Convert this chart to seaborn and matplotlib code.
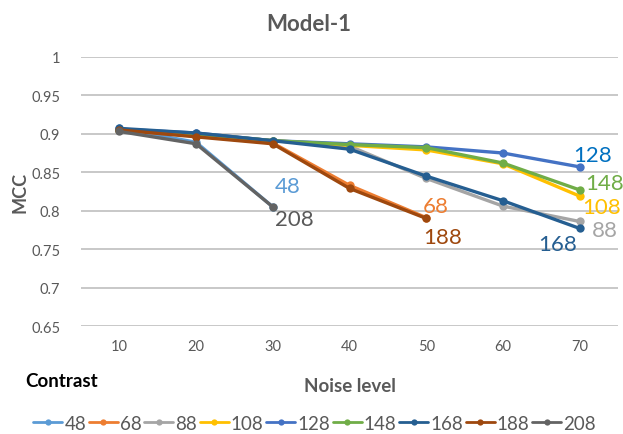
import numpy as np
import pandas as pd
import matplotlib
matplotlib.use("Agg")
import matplotlib.pyplot as plt
import seaborn as sns
from matplotlib.lines import Line2D

noise = [10, 20, 30, 40, 50, 60, 70]
c48 = [0.907, 0.889, 0.805]
c68 = [0.905, 0.897, 0.888, 0.833, 0.791]
c88 = [0.905, 0.900, 0.891, 0.884, 0.842, 0.806, 0.786]
c108 = [0.905, 0.900, 0.891, 0.885, 0.879, 0.861, 0.819]
c128 = [0.906, 0.901, 0.891, 0.887, 0.883, 0.875, 0.857]
c148 = [0.905, 0.900, 0.891, 0.886, 0.882, 0.862, 0.827]
c168 = [0.907, 0.901, 0.891, 0.880, 0.845, 0.813, 0.777]
c188 = [0.905, 0.896, 0.887, 0.829, 0.790]
c208 = [0.903, 0.887, 0.805]

contrasts = ["48", "68", "88", "108", "128", "148", "168", "188", "208"]
series = [c48, c68, c88, c108, c128, c148, c168, c188, c208]
colors = ["#5B9BD5", "#ED7D31", "#A5A5A5", "#FFC000", "#4472C4",
          "#70AD47", "#255E91", "#9E480E", "#636363"]
label_colors = ["#5B9BD5", "#ED7D31", "#A5A5A5", "#FFC000", "#0070C0",
                "#70AD47", "#255E91", "#9E480E", "#595959"]

rows = []
for c, vals in zip(contrasts, series):
    for x, v in zip(noise, vals):
        rows.append({"Noise level": x, "MCC": v, "Contrast": c})
df = pd.DataFrame(rows)

sns.set_style("white")
plt.rcParams["font.family"] = ["Lato", "DejaVu Sans"]

fig = plt.figure(figsize=(6.23, 4.35), dpi=100)
ax = fig.add_axes([0.130, 0.248, 0.862, 0.619])

sns.lineplot(data=df, x="Noise level", y="MCC", hue="Contrast",
             hue_order=contrasts, palette=dict(zip(contrasts, colors)),
             marker="o", markersize=6, markeredgewidth=0, linewidth=2.4,
             ax=ax, legend=False, sort=False)

ax.set_xlim(5, 75)
ax.set_ylim(0.65, 1.0)
ax.set_xticks(noise)
ax.set_xticklabels([str(n) for n in noise])
ax.set_yticks([0.65, 0.7, 0.75, 0.8, 0.85, 0.9, 0.95, 1.0])
ax.set_yticklabels(["0.65", "0.7", "0.75", "0.8", "0.85", "0.9", "0.95", "1"])
ax.yaxis.grid(True, color="#BFBFBF", linewidth=1.2)
ax.set_axisbelow(True)
for s in ax.spines.values():
    s.set_visible(False)
ax.tick_params(axis="both", length=0, labelsize=10.5, colors="#595959", pad=9)
ax.tick_params(axis="y", pad=15)

ax.set_xlabel("Noise level", fontsize=13.5, fontweight="bold", color="#595959")
ax.xaxis.set_label_coords(0.5, -0.19)
ax.set_ylabel("MCC", fontsize=13, fontweight="bold", color="#595959")
ax.yaxis.set_label_coords(-0.097, 0.50)
fig.text(0.496, 0.943, "Model-1", ha="center", va="center", fontsize=16,
         fontweight="bold", color="#595959")

# end-point data labels (offsets from the series' last point)
offsets = {
    "48": (0.3, 0.027), "68": (-0.5, 0.015),
    "88": (1.6, -0.011), "108": (0.3, -0.014),
    "128": (-0.9, 0.0155), "148": (0.7, 0.009),
    "168": (-5.4, -0.020), "188": (-0.4, -0.024),
    "208": (0.3, -0.016),
}
for c, vals, lc in zip(contrasts, series, label_colors):
    x = noise[len(vals) - 1]
    dx, dy = offsets[c]
    ax.text(x + dx, vals[-1] + dy, c, color=lc, fontsize=16, ha="left", va="center")

handles = [Line2D([0], [0], color=col, lw=2.0, marker="o", markersize=4.5,
                  markeredgewidth=0) for col in colors]
fig.legend(handles, contrasts, loc="center", bbox_to_anchor=(0.505, 0.025),
           ncol=9, frameon=False, fontsize=13.5, handlelength=1.55,
           handletextpad=0.1, columnspacing=0.15, labelcolor="#595959")
fig.text(0.040, 0.124, "Contrast", fontsize=13.5, fontweight="bold",
         color="black", ha="left", va="center")

fig.savefig("out.png", dpi=100)
